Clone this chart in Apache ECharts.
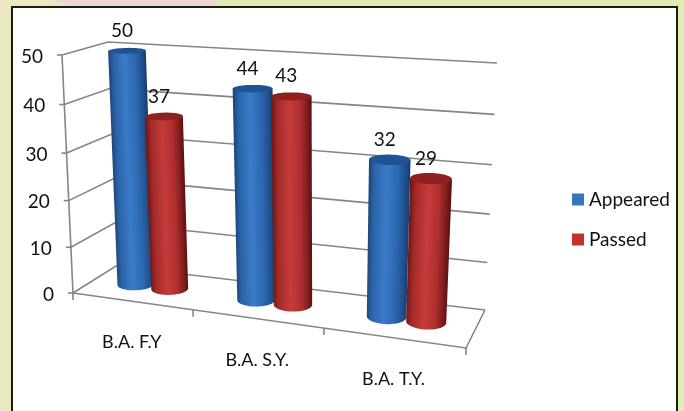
<!DOCTYPE html>
<html><head><meta charset="utf-8">
<style>html,body{margin:0;padding:0;background:#ebe8c2}#c{width:684px;height:411px}</style>
<script src="https://cdn.jsdelivr.net/npm/echarts@6/dist/echarts.min.js"></script>
</head><body><div id="c"></div>
<script>
const categories = ['B.A. F.Y', 'B.A. S.Y.', 'B.A. T.Y.'];
const appeared = [50, 44, 32];
const passed = [37, 43, 29];
const yTicks = [0, 10, 20, 30, 40, 50];
const yMax = 50;
const FONT = 'Lato';

// Perspective of the box: corners in order front-left, back-left, back-right, front-right
const floorQuad = [[73,293],[116,266],[485,310],[466,348]];
const topQuad   = [[62,55],[108,42],[497,63],[480,84]];
function homography(q){
  const p0=q[0],p3=q[1],p2=q[2],p1=q[3];
  const dx1=p1[0]-p2[0],dx2=p3[0]-p2[0],sx=p0[0]-p1[0]+p2[0]-p3[0];
  const dy1=p1[1]-p2[1],dy2=p3[1]-p2[1],sy=p0[1]-p1[1]+p2[1]-p3[1];
  const d=dx1*dy2-dx2*dy1;
  const g=(sx*dy2-dx2*sy)/d,h=(dx1*sy-sx*dy1)/d;
  const a=p1[0]-p0[0]+g*p1[0],b=p3[0]-p0[0]+h*p3[0],c=p0[0];
  const e=p1[1]-p0[1]+g*p1[1],f=p3[1]-p0[1]+h*p3[1],k=p0[1];
  return (s,t)=>{const w=g*s+h*t+1;return [(a*s+b*t+c)/w,(e*s+f*t+k)/w];};
}
const floorH=homography(floorQuad), topH=homography(topQuad);
const FLOOR_K=0.1, TOP_K=0.17;
// u: 0..n along the categories, depth: 0 front..1 back, t: 0..1 of the value range
function project(u,depth,t){
  const s=u/categories.length;
  const a=floorH(s+FLOOR_K*s*(1-s),depth),b=topH(s+TOP_K*s*(1-s),depth);
  const m=t-0.05*t*(1-t);
  return [a[0]+(b[0]-a[0])*m,a[1]+(b[1]-a[1])*m];
}
function norm(params,api,i,v){
  const p=api.coord([i,v]),cs=params.coordSys;
  return {u:(p[0]-cs.x)/cs.width*categories.length,t:(cs.y+cs.height-p[1])/cs.height};
}
const BAR_OFF=0.145, BAR_RU=0.141, BAR_RZ=0.2, BAR_DEPTH=0.5, N=48;

function circle(u,t){
  const pts=[];
  for(let k=0;k<N;k++){
    const a=k/N*Math.PI*2;
    pts.push(project(u+BAR_RU*Math.cos(a),BAR_DEPTH+BAR_RZ*Math.sin(a),t));
  }
  return pts;
}
function extremes(pts){
  let l=0,r=0;
  pts.forEach((p,k)=>{if(p[0]<pts[l][0])l=k;if(p[0]>pts[r][0])r=k;});
  return [l,r];
}
function arc(pts,from,to,step){
  const out=[];
  for(let k=from;;k=(k+step+N)%N){out.push(pts[k]);if(k===to)break;}
  return out;
}
function cylinder(side,stops,topColor){
  return function(params,api){
    const i=api.value(0),v=api.value(1);
    const n=norm(params,api,i,v);
    const u=n.u+side*BAR_OFF;
    const top=circle(u,n.t),bot=circle(u,0);
    const [tl,tr]=extremes(top),[bl,br]=extremes(bot);
    const a1=arc(bot,br,bl,1),a2=arc(bot,br,bl,-1);
    const sum=a=>a.reduce((s,p)=>s+p[1],0)/a.length;
    const frontArc=sum(a1)>sum(a2)?a1:a2;
    const body=[top[tl],top[tr]].concat(frontArc);
    const cx=(top[tl][0]+top[tr][0]+bot[bl][0]+bot[br][0])/4;
    const cy=(top[tl][1]+top[tr][1]+bot[bl][1]+bot[br][1])/4;
    const ax=(top[tl][0]+top[tr][0]-bot[bl][0]-bot[br][0])/2,ay=(top[tl][1]+top[tr][1]-bot[bl][1]-bot[br][1])/2;
    const L=Math.hypot(ax,ay)||1;
    const hw=(Math.abs(top[tr][0]-top[tl][0])+Math.abs(bot[br][0]-bot[bl][0]))/4;
    let px=-ay/L,py=ax/L;
    if(px<0){px=-px;py=-py;}
    const grad=new echarts.graphic.LinearGradient(cx-px*hw,cy-py*hw,cx+px*hw,cy+py*hw,stops,true);
    const c=project(u,BAR_DEPTH,n.t);
    return {type:'group',children:[
      {type:'polygon',shape:{points:body},style:{fill:grad}},
      {type:'polygon',shape:{points:top},style:{fill:topColor}},
      {type:'text',z2:50,style:{text:String(v),x:c[0]-5,y:c[1]-20,fill:'#111',fontFamily:FONT,fontSize:19,align:'center',verticalAlign:'middle'}}
    ]};
  };
}
const blueStops=[{offset:0,color:'#1b4678'},{offset:.12,color:'#2a62a6'},{offset:.42,color:'#3a7bc8'},{offset:.7,color:'#2d68b0'},{offset:.9,color:'#1f4f8c'},{offset:1,color:'#163c6c'}];
const redStops=[{offset:0,color:'#6e1616'},{offset:.14,color:'#a32a2a'},{offset:.45,color:'#c63c3a'},{offset:.72,color:'#ae2e2e'},{offset:.9,color:'#7c1c1c'},{offset:1,color:'#5a1010'}];

const LINE={stroke:'#858585',lineWidth:1.6,fill:null};
function line(pts){return {type:'polyline',shape:{points:pts},style:LINE};}

function renderWall(params,api){
  const n=norm(params,api,0,api.value(0));
  const nC=categories.length;
  const fl=project(0,0,n.t),bl=project(0,1,n.t),br=project(nC,1,n.t);
  return {type:'group',children:[
    line([fl,bl,br]),
    line([[fl[0]-5,fl[1]],fl]),
    {type:'text',style:{text:String(api.value(0)),x:fl[0]-19,y:fl[1]+1.5,fill:'#111',fontFamily:FONT,fontSize:19,align:'right',verticalAlign:'middle'}}
  ]};
}
function renderFrameAxes(params,api){
  const nC=categories.length;
  const kids=[line([project(0,0,0),project(0,0,1)]),
    line([project(0,0,0),project(nC,0,0),project(nC,1,0)])];
  for(let k=0;k<=nC;k++){const p=project(k,0,0);kids.push(line([p,[p[0],p[1]+7]]));}
  return {type:'group',children:kids};
}
function renderCat(params,api){
  const i=api.value(0);
  const n=norm(params,api,i,0);
  const p=project(n.u,0,0);
  return {type:'text',style:{text:categories[i],x:p[0],y:p[1]+41,fill:'#111',fontFamily:FONT,fontSize:18,align:'center',verticalAlign:'middle'}};
}

const chart=echarts.init(document.getElementById('c'),null,{renderer:'canvas'});
chart.setOption({
  animation:false,
  backgroundColor:'transparent',
  grid:{left:60,right:200,top:40,bottom:100},
  xAxis:{type:'category',data:categories,show:false},
  yAxis:{type:'value',min:0,max:yMax,interval:10,show:false},
  legend:{data:['Appeared','Passed'],orient:'vertical',left:567,top:185,itemWidth:12,itemHeight:12,itemGap:21,icon:'rect',
    textStyle:{fontFamily:FONT,fontSize:19,color:'#111'}},
  graphic:[
    {type:'rect',z:-10,shape:{x:0,y:0,width:684,height:411},style:{fill:'#ebe8c2'}},
    {type:'polygon',z:-10,shape:{points:[[55,0],[220,0],[215,8],[70,8]]},style:{fill:'#f1d8ce'}},
    {type:'polygon',z:-10,shape:{points:[[220,0],[684,0],[684,411],[676,411],[676,8],[215,8]]},style:{fill:'#deeeb2'}},
    {type:'rect',z:-9,shape:{x:12,y:7,width:665,height:420},style:{fill:'#fff',stroke:'#1c1c14',lineWidth:2}}
  ],
  series:[
    {type:'custom',name:'wall',silent:true,data:yTicks.map(v=>[v]),encode:{y:0},renderItem:renderWall,clip:false,z:1},
    {type:'custom',name:'axes',silent:true,data:[[0]],renderItem:renderFrameAxes,clip:false,z:1},
    {type:'custom',name:'cats',silent:true,data:categories.map((c,i)=>[i]),encode:{x:0},renderItem:renderCat,clip:false,z:1},
    {type:'custom',name:'Appeared',itemStyle:{color:'#3a74be'},data:appeared.map((v,i)=>[i,v]),encode:{x:0,y:1},renderItem:cylinder(-1,blueStops,'#1f5494'),clip:false,z:2},
    {type:'custom',name:'Passed',itemStyle:{color:'#c0342f'},data:passed.map((v,i)=>[i,v]),encode:{x:0,y:1},renderItem:cylinder(1,redStops,'#8e2020'),clip:false,z:3}
  ]
});
</script></body></html>
